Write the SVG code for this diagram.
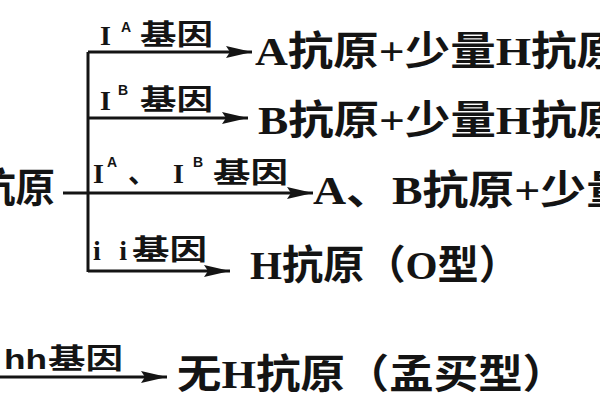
<svg xmlns="http://www.w3.org/2000/svg" width="600" height="400" viewBox="0 0 600 400">
<defs>
<style>
.main{font-family:"Liberation Serif","Noto Sans CJK SC",serif;font-weight:bold;font-size:40px;fill:#141414}
.lab{font-family:"Liberation Serif","Noto Sans CJK SC",serif;font-weight:bold;font-size:28px;fill:#141414}
.sup{font-family:"Liberation Sans","Noto Sans CJK SC",sans-serif;font-weight:bold;font-size:14px;fill:#141414}
.hh{font-family:"Liberation Sans","Noto Sans CJK SC",sans-serif;font-weight:bold;font-size:28px;fill:#141414}
.ln{fill:none;stroke:#141414;stroke-width:3}
</style>
<marker id="ah" viewBox="0 0 26 14" markerWidth="26" markerHeight="14" refX="26" refY="7" orient="auto" markerUnits="userSpaceOnUse">
<path d="M0,1 L26,7 L0,13 L4,7 z" fill="#141414"/>
</marker>
</defs>
<rect width="600" height="400" fill="#ffffff"/>
<g id="connectors">
<path class="ln" d="M88,52 V272"/>
<path class="ln" d="M88,52 H252" marker-end="url(#ah)"/>
<path class="ln" d="M88,118 H248" marker-end="url(#ah)"/>
<path class="ln" d="M63,193 H313" marker-end="url(#ah)"/>
<path class="ln" d="M88,271 H230" marker-end="url(#ah)"/>
<path class="ln" d="M0,377 H167" marker-end="url(#ah)"/>
</g>
<g id="source">
<text class="main" x="-24" y="202" font-size="38" textLength="79" lengthAdjust="spacingAndGlyphs">抗原</text>
</g>
<g id="label-IA">
<text class="lab" x="100" y="45">I</text>
<text class="sup" x="121" y="32">A</text>
<text class="lab" x="140" y="45" textLength="73" lengthAdjust="spacingAndGlyphs">基因</text>
</g>
<g id="label-IB">
<text class="lab" x="100" y="110">I</text>
<text class="sup" x="118" y="95">B</text>
<text class="lab" x="140" y="110" textLength="73" lengthAdjust="spacingAndGlyphs">基因</text>
</g>
<g id="label-IAIB">
<text class="lab" x="93" y="183">I</text>
<text class="sup" x="107" y="167">A</text>
<text class="lab" x="128" y="183">、</text>
<text class="lab" x="173" y="183">I</text>
<text class="sup" x="193" y="167">B</text>
<text class="lab" x="213" y="183" textLength="75" lengthAdjust="spacingAndGlyphs">基因</text>
</g>
<g id="label-ii">
<text class="lab" x="93" y="260" textLength="34" lengthAdjust="spacing">ii</text>
<text class="lab" x="132" y="260" textLength="75" lengthAdjust="spacingAndGlyphs">基因</text>
</g>
<g id="label-hh">
<text class="hh" x="4" y="369" textLength="43" lengthAdjust="spacingAndGlyphs">hh</text>
<text class="lab" x="48" y="369" textLength="75" lengthAdjust="spacingAndGlyphs">基因</text>
</g>
<g id="node-A">
<text class="main" x="255" y="65" textLength="367" lengthAdjust="spacingAndGlyphs">A抗原+少量H抗原</text>
</g>
<g id="node-B">
<text class="main" x="258" y="134" textLength="364" lengthAdjust="spacingAndGlyphs">B抗原+少量H抗原</text>
</g>
<g id="node-AB">
<text class="main" x="313" y="204" textLength="319" lengthAdjust="spacingAndGlyphs">A、B抗原+少量</text>
</g>
<g id="node-O">
<text class="main" x="250" y="279" textLength="270" lengthAdjust="spacingAndGlyphs">H抗原（O型）</text>
</g>
<g id="node-Bombay">
<text class="main" x="177" y="388" textLength="390" lengthAdjust="spacingAndGlyphs">无H抗原（孟买型）</text>
</g>
</svg>
